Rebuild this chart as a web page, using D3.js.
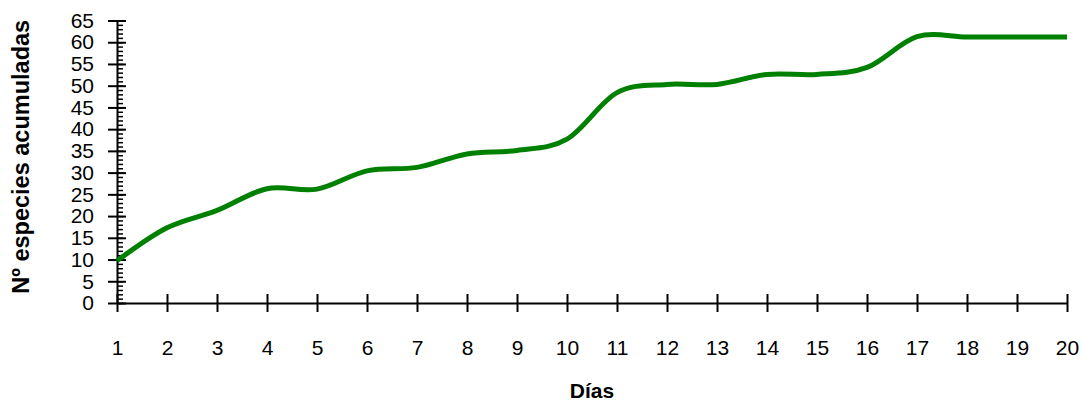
<!DOCTYPE html>
<html>
<head>
<meta charset="utf-8">
<script src="https://cdn.jsdelivr.net/npm/d3@7"></script>
<style>
  body { margin: 0; background: #fff; }
  svg { display: block; font-family: "Liberation Sans", Arial, sans-serif; }
  .domain { stroke: #000; stroke-width: 2px; }
  .tick line { stroke: #000; stroke-width: 2px; }
</style>
</head>
<body>
<svg width="1084" height="402"></svg>
<script>
var dias = [1, 2, 3, 4, 5, 6, 7, 8, 9, 10, 11, 12, 13, 14, 15, 16, 17, 18, 19, 20];
var especies = [9.7, 17.3, 21.3, 26.3, 26.2, 30.4, 31.2, 34.3, 35.1, 37.7, 48.4, 50.3, 50.3, 52.6, 52.6, 54.2, 61.3, 61.2, 61.2, 61.2];
var yTicks = [0, 5, 10, 15, 20, 25, 30, 35, 40, 45, 50, 55, 60, 65];

var svg = d3.select("svg"),
    plotLeft = 117, plotRight = 1067, plotTop = 20.5, plotBottom = 303;

var x = d3.scaleLinear().domain([1, 20]).range([plotLeft, plotRight]);
var y = d3.scaleLinear().domain([0, 65]).range([plotBottom, plotTop]);

// eje Y: marcas menores hacia dentro
svg.append("g")
    .attr("transform", "translate(" + plotLeft + ",0)")
    .call(d3.axisRight(y).tickValues(d3.range(0, 66)).tickSize(6).tickFormat(""))
    .call(function(g) { g.select(".domain").remove(); })
    .selectAll(".tick line").style("stroke-width", "1.5px");

// eje Y: marcas mayores que cruzan el eje
var yAxis = svg.append("g")
    .attr("transform", "translate(" + plotLeft + ",0)")
    .call(d3.axisLeft(y).tickValues(yTicks).tickSizeOuter(0).tickSizeInner(9).tickPadding(14));
yAxis.selectAll(".tick line").attr("x2", 9).attr("x1", -9);
yAxis.selectAll("text").style("font-size", "21px").attr("fill", "#000");

// eje X
var xAxis = svg.append("g")
    .attr("transform", "translate(0," + plotBottom + ")")
    .call(d3.axisBottom(x).tickValues(dias).tickFormat(d3.format("d")).tickSizeOuter(0).tickSizeInner(9).tickPadding(28));
xAxis.selectAll(".tick line").attr("y1", -9);
xAxis.selectAll("text").style("font-size", "21px").attr("fill", "#000");

// curva acumulada
svg.append("path")
    .datum(dias)
    .attr("fill", "none")
    .attr("stroke", "#008000")
    .attr("stroke-width", 5)
    .attr("d", d3.line()
        .curve(d3.curveCardinal.tension(0))
        .x(function(d) { return x(d); })
        .y(function(d, i) { return y(especies[i]); }));

// títulos
svg.append("text")
    .attr("transform", "translate(29," + ((plotTop + plotBottom) / 2 - 5) + ")rotate(-90)")
    .attr("text-anchor", "middle")
    .style("font-size", "23.5px")
    .style("font-weight", "bold")
    .text("Nº especies acumuladas");

svg.append("text")
    .attr("x", (plotLeft + plotRight) / 2)
    .attr("y", 398)
    .attr("text-anchor", "middle")
    .style("font-size", "21px")
    .style("font-weight", "bold")
    .text("Días");
</script>
</body>
</html>
